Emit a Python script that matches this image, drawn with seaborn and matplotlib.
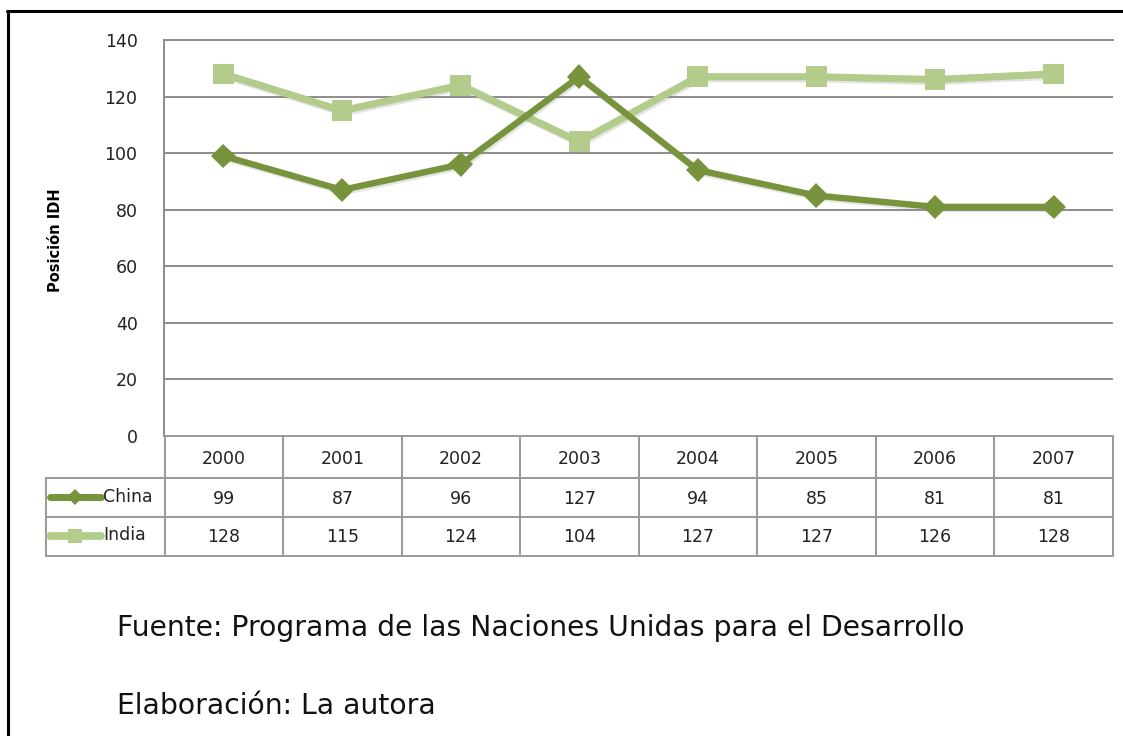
import numpy as np
import pandas as pd
import matplotlib
matplotlib.use("Agg")
import matplotlib.pyplot as plt
import matplotlib.patheffects as pe
from matplotlib.lines import Line2D
import seaborn as sns

# data
years = [2000, 2001, 2002, 2003, 2004, 2005, 2006, 2007]
china = [99, 87, 96, 127, 94, 85, 81, 81]
india = [128, 115, 124, 104, 127, 127, 126, 128]
y_ticks = [0, 20, 40, 60, 80, 100, 120, 140]
y_label = "Posición IDH"
source_lines = ["Fuente: Programa de las Naciones Unidas para el Desarrollo",
                "Elaboración: La autora"]

series = {"China": china, "India": india}
colors = {"China": "#77933C", "India": "#B3CC8B"}
markers = {"China": "D", "India": "s"}
msizes = {"China": 12.5, "India": 15}
lwidths = {"China": 4.6, "India": 5.2}
zorders = {"China": 4, "India": 3}

W, H = 1123, 736
sns.set_theme(style="white")
plt.rcParams["font.family"] = ["DejaVu Sans"]

fig = plt.figure(figsize=(W / 100, H / 100), dpi=100)
fig.patch.set_facecolor("white")


def fx(px):
    return px / W


def fy(px):
    return 1 - px / H


# main plot area
ax = fig.add_axes([fx(164), fy(436), fx(1113) - fx(164), fy(40) - fy(436)])
df = pd.DataFrame({"pos": np.arange(len(years))})
shadow = [pe.SimpleLineShadow(offset=(1.2, -1.5), shadow_color="#888888", alpha=0.22), pe.Normal()]
for name, vals in series.items():
    d = df.assign(val=vals)
    sns.lineplot(data=d, x="pos", y="val", ax=ax, color=colors[name],
                 marker=markers[name], markersize=msizes[name],
                 markeredgewidth=0, linewidth=lwidths[name], legend=False,
                 path_effects=shadow, zorder=zorders[name])

ax.set_xlim(-0.5, len(years) - 0.5)
ax.set_ylim(0, 140)
ax.set_yticks(y_ticks)
ax.set_yticklabels([str(t) for t in y_ticks], fontsize=12.5, color="#222222")
ax.set_xticks([])
ax.set_xlabel("")
ax.set_ylabel("")
ax.tick_params(axis="y", length=0, pad=19)
ax.yaxis.grid(True, color="#8c8c8c", linewidth=1.4)
ax.set_axisbelow(True)
for side in ["right", "bottom"]:
    ax.spines[side].set_visible(False)
ax.spines["top"].set_color("#8c8c8c")
ax.spines["top"].set_linewidth(1.4)
ax.spines["left"].set_color("#8c8c8c")
ax.spines["left"].set_linewidth(1.4)

fig.text(fx(55), fy(240), y_label, rotation=90, ha="center", va="center",
         fontsize=10.5, fontweight="bold", color="black")

# data table below the plot (row edges in pixels: header 42, body rows 39)
row_edges = [0, 42, 81, 120]
tax = fig.add_axes([fx(46), fy(556), fx(1113) - fx(46), fy(436) - fy(556)])
tax.set_xlim(-1.5, len(years) - 0.5)
tax.set_ylim(row_edges[-1], 0)
tax.axis("off")
gcol = "#999999"
glw = 1.4
n = len(years)
tax.plot([-0.5, n - 0.5], [row_edges[0]] * 2, color=gcol, lw=glw, clip_on=False)
for r in row_edges[1:]:
    tax.plot([-1.5, n - 0.5], [r, r], color=gcol, lw=glw, clip_on=False)
tax.plot([-1.5, -1.5], [row_edges[1], row_edges[-1]], color=gcol, lw=glw, clip_on=False)
for c in range(n + 1):
    tax.plot([c - 0.5, c - 0.5], [row_edges[0], row_edges[-1]], color=gcol, lw=glw, clip_on=False)

fs_tab = 12.5
hdr_mid = (row_edges[0] + row_edges[1]) / 2 + 2
for i, yr in enumerate(years):
    tax.text(i, hdr_mid, str(yr), ha="center", va="center", fontsize=fs_tab, color="#222222")
for r, (name, vals) in enumerate(series.items(), start=1):
    mid = (row_edges[r] + row_edges[r + 1]) / 2
    for i, v in enumerate(vals):
        tax.text(i, mid + 1, str(v), ha="center", va="center", fontsize=fs_tab, color="#222222")
    # legend key in the first column
    tax.plot([-1.47, -1.04], [mid - 1, mid - 1], color=colors[name], lw=lwidths[name] + 0.4,
             solid_capstyle="round", clip_on=False)
    tax.plot([-1.255], [mid - 1], color=colors[name], marker=markers[name],
             markersize=msizes[name] * 0.65, markeredgewidth=0, clip_on=False)
    tax.text(-1.02, mid - 1, name, ha="left", va="center", fontsize=fs_tab, color="#222222")

# source notes
fig.text(fx(117), fy(628), source_lines[0], ha="left", va="center", fontsize=20.3, color="#111111")
fig.text(fx(117), fy(706), source_lines[1], ha="left", va="center", fontsize=20.3, color="#111111")

# outer frame (left and top edges visible)
fig.add_artist(Line2D([fx(8), fx(8)], [fy(11), 0], color="black", lw=2.2))
fig.add_artist(Line2D([fx(7), 1], [fy(11), fy(11)], color="black", lw=2.2))

fig.savefig("out.png", dpi=100, facecolor="white")
